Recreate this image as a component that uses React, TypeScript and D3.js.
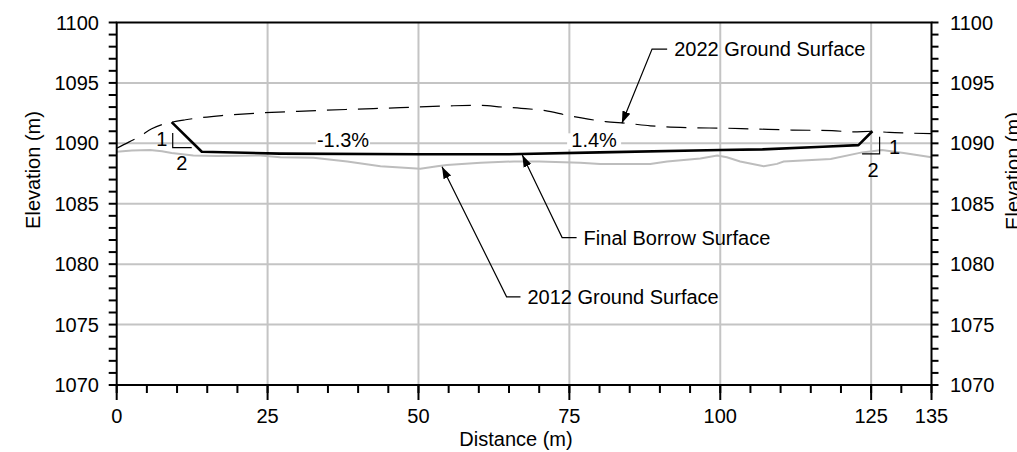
import React from "react";
import * as d3 from "d3";

const W = 1017;
const H = 452;

const xTicksMajor = [0, 25, 50, 75, 100, 125, 135];
const xTicksMinor = d3.range(0, 136, 5);
const yTicksMajor = [1070, 1075, 1080, 1085, 1090, 1095, 1100];
const yTicksMinor = d3.range(1070, 1101, 1);
const xGrid = [25, 50, 75, 100, 125];
const yGrid = [1075, 1080, 1085, 1090, 1095];

const ground2022: [number, number][] = [
  [0, 1089.6], [2, 1090.1], [3.9, 1090.6], [5.8, 1091.2], [7.5, 1091.55], [9.1, 1091.75],
  [11.4, 1091.95], [17.4, 1092.3], [23.2, 1092.5], [30, 1092.65], [38, 1092.8], [47, 1092.95],
  [55, 1093.1], [60, 1093.15], [64, 1093.0], [67, 1092.9], [71, 1092.7], [74.8, 1092.3],
  [77, 1092.1], [81, 1091.8], [84.6, 1091.65], [88.4, 1091.45], [94.5, 1091.3], [101, 1091.25],
  [105, 1091.2], [112, 1091.1], [118.5, 1091.05], [122, 1090.95], [125.2, 1091.0], [128, 1090.9],
  [131, 1090.85], [135, 1090.8],
];

const ground2012: [number, number][] = [
  [0, 1089.3], [2.5, 1089.4], [5.5, 1089.45], [7.5, 1089.35], [9.1, 1089.2], [12.7, 1089.0],
  [16.6, 1088.95], [23.8, 1089.0], [27.1, 1088.85], [32.6, 1088.8], [38.2, 1088.5], [43.7, 1088.1],
  [50.3, 1087.9], [53.1, 1088.1], [54.7, 1088.2], [60.3, 1088.4], [65.8, 1088.5], [70, 1088.5],
  [76.8, 1088.4], [80.1, 1088.3], [88.4, 1088.3], [91.2, 1088.5], [96.7, 1088.75], [99.5, 1089.0],
  [101.1, 1088.85], [103.3, 1088.5], [107.2, 1088.1], [109.4, 1088.3], [110.5, 1088.5],
  [118.3, 1088.7], [123.5, 1089.25], [126.8, 1089.45], [130.4, 1089.2], [135, 1088.85],
];

const borrow: [number, number][] = [
  [9.1, 1091.75], [14.1, 1089.3], [27, 1089.15], [50, 1089.1], [65, 1089.1], [80, 1089.25],
  [100, 1089.45], [107, 1089.5], [117, 1089.72], [122.9, 1089.85], [125.2, 1091.0],
];

// callouts: tip, elbow, end of horizontal, label
const callouts = [
  { label: "2022 Ground Surface", tip: [83.7, 1091.66], elbow: [88.7, 1097.8], end: 91.2 },
  { label: "Final Borrow Surface", tip: [67.2, 1089.03], elbow: [73.8, 1082.2], end: 76.2 },
  { label: "2012 Ground Surface", tip: [53.9, 1088.07], elbow: [64.6, 1077.3], end: 66.9 },
];

const slopeLabels = [
  { text: "-1.3%", x: 37.5, y: 1090 },
  { text: "1.4%", x: 79.1, y: 1090 },
];

// slope triangles: vertical x, top y, bottom y, horizontal other end x, label positions
const slopeMarks = [
  { vx: 9.28, y0: 1090.85, y1: 1089.65, hx: 12.43, one: [7.47, 1090.4], two: [10.77, 1088.35] },
  { vx: 126.4, y0: 1090.55, y1: 1089.12, hx: 123.5, one: [128.9, 1089.72], two: [125.3, 1087.8] },
];

const x = d3.scaleLinear().domain([0, 135]).range([116.7, 931.5]);
const y = d3.scaleLinear().domain([1070, 1100]).range([385, 22.5]);

const FONT = "Arial, 'Liberation Sans', sans-serif";

export default function App() {
  const line = d3.line<[number, number]>().x((d) => x(d[0])).y((d) => y(d[1]));
  const smooth = d3
    .line<[number, number]>()
    .x((d) => x(d[0]))
    .y((d) => y(d[1]))
    .curve(d3.curveMonotoneX);

  return (
    <svg
      width={W}
      height={H}
      style={{ position: "absolute", left: 0, top: 0, background: "#fff" }}
      fontFamily={FONT}
    >
      <defs>
        <marker id="arr" viewBox="0 0 10 10" refX="10" refY="5" markerWidth="12" markerHeight="12" markerUnits="userSpaceOnUse" orient="auto">
          <path d="M0,1.5 L10,5 L0,8.5 Z" fill="#000" />
        </marker>
      </defs>
      {/* grid */}
      {xGrid.map((v) => (
        <line key={"gx" + v} x1={x(v)} x2={x(v)} y1={y(1070)} y2={y(1100)} stroke="#c4c4c4" strokeWidth={2} />
      ))}
      {yGrid.map((v) => (
        <line key={"gy" + v} x1={x(0)} x2={x(135)} y1={y(v)} y2={y(v)} stroke="#c4c4c4" strokeWidth={2} />
      ))}

      {/* 2012 ground */}
      <path d={line(ground2012) || ""} fill="none" stroke="#bdbdbd" strokeWidth={2} />
      {/* 2022 ground */}
      <path d={smooth(ground2022) || ""} fill="none" stroke="#000" strokeWidth={1.2} strokeDasharray="20,11" />
      {/* borrow */}
      <path d={line(borrow) || ""} fill="none" stroke="#000" strokeWidth={2.6} strokeLinejoin="round" />

      {/* slope labels */}
      {slopeLabels.map((s) => (
        <g key={s.text}>
          <rect x={x(s.x) - 27} y={y(s.y) - 10} width={54} height={16} fill="#fff" />
          <text x={x(s.x)} y={y(s.y) + 3.5} fontSize={20} textAnchor="middle" fill="#000">
            {s.text}
          </text>
        </g>
      ))}

      {/* slope marks */}
      {slopeMarks.map((m, i) => (
        <g key={"sm" + i}>
          <polyline
            points={`${x(m.vx)},${y(m.y0)} ${x(m.vx)},${y(m.y1)} ${x(m.hx)},${y(m.y1)}`}
            fill="none"
            stroke="#000"
            strokeWidth={1.2}
          />
          <text x={x(m.one[0])} y={y(m.one[1])} fontSize={20} textAnchor="middle" dominantBaseline="central">1</text>
          <text x={x(m.two[0])} y={y(m.two[1])} fontSize={20} textAnchor="middle" dominantBaseline="central">2</text>
        </g>
      ))}

      {/* callouts */}
      {callouts.map((c) => (
        <g key={c.label}>
          <polyline
            points={`${x(c.end)},${y(c.elbow[1])} ${x(c.elbow[0])},${y(c.elbow[1])} ${x(c.tip[0])},${y(c.tip[1])}`}
            fill="none"
            stroke="#000"
            strokeWidth={1.2}
            markerEnd="url(#arr)"
          />
          <text x={x(c.end) + 7} y={y(c.elbow[1])} fontSize={20} dominantBaseline="central" fill="#000">
            {c.label}
          </text>
        </g>
      ))}

      {/* frame */}
      <rect x={x(0)} y={y(1100)} width={x(135) - x(0)} height={y(1070) - y(1100)} fill="none" stroke="#000" strokeWidth={2} />

      {/* y ticks */}
      {yTicksMinor.map((v) => (
        <g key={"yt" + v}>
          <line x1={x(0) - 8} x2={x(0)} y1={y(v)} y2={y(v)} stroke="#000" strokeWidth={2} />
          <line x1={x(135)} x2={x(135) + 7} y1={y(v)} y2={y(v)} stroke="#000" strokeWidth={2} />
        </g>
      ))}
      {yTicksMajor.map((v) => (
        <g key={"yl" + v}>
          <text x={99} y={y(v)} fontSize={20} textAnchor="end" dominantBaseline="central">{v}</text>
          <text x={950} y={y(v)} fontSize={20} textAnchor="start" dominantBaseline="central">{v}</text>
        </g>
      ))}

      {/* x ticks */}
      {xTicksMinor.map((v) => (
        <line key={"xt" + v} x1={x(v)} x2={x(v)} y1={y(1070)} y2={y(1070) + 8} stroke="#000" strokeWidth={2} />
      ))}
      {xTicksMajor.map((v) => (
        <g key={"xl" + v}>
          <line x1={x(v)} x2={x(v)} y1={y(1070)} y2={y(1070) + 15} stroke="#000" strokeWidth={2} />
          <text x={x(v)} y={423} fontSize={20} textAnchor="middle">{v}</text>
        </g>
      ))}

      {/* axis titles */}
      <text x={516} y={446} fontSize={20} textAnchor="middle">Distance (m)</text>
      <text transform="translate(40,170) rotate(-90)" fontSize={20} textAnchor="middle">Elevation (m)</text>
      <text transform="translate(1020,171) rotate(-90)" fontSize={20} textAnchor="middle">Elevation (m)</text>
    </svg>
  );
}
